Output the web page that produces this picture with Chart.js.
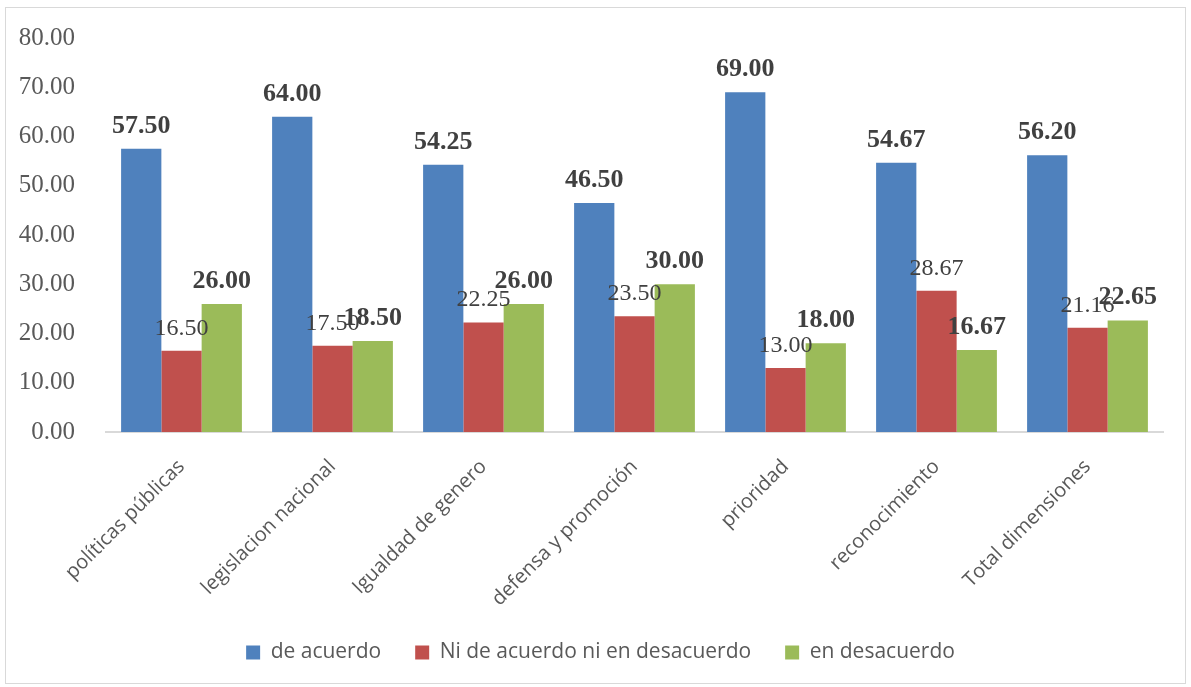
<!DOCTYPE html>
<html>
<head>
<meta charset="utf-8">
<script src="https://cdn.jsdelivr.net/npm/chart.js@4/dist/chart.umd.min.js"></script>
<style>
    html, body { margin: 0; padding: 0; background: #fff; }
    #wrap {
        position: absolute; left: 5px; top: 7px;
        width: 1179px; height: 675px;
        border: 1px solid #d9d9d9;
    }
</style>
</head>
<body>
<div id="wrap"><canvas id="barChart"></canvas></div>
<script>
    const categories = ['políticas públicas', 'legislacion nacional', 'Igualdad de genero',
        'defensa y promoción', 'prioridad', 'reconocimiento', 'Total dimensiones'];
    const deAcuerdo = [57.50, 64.00, 54.25, 46.50, 69.00, 54.67, 56.20];
    const niNi = [16.50, 17.50, 22.25, 23.50, 13.00, 28.67, 21.16];
    const enDesacuerdo = [26.00, 18.50, 26.00, 30.00, 18.00, 16.67, 22.65];
    const yTicks = [0, 10, 20, 30, 40, 50, 60, 70, 80];

    const serif = '"Liberation Serif", "Times New Roman", serif';
    const sans = '"Open Sans", "Liberation Sans", sans-serif';

    // draws the value above each bar (bold for blue and green, plain for red)
    const valueLabels = {
        id: 'valueLabels',
        afterDatasetsDraw(chart) {
            const c = chart.ctx;
            chart.data.datasets.forEach((ds, i) => {
                const meta = chart.getDatasetMeta(i);
                meta.data.forEach((bar, j) => {
                    c.save();
                    c.font = ds.boldLabel ? 'bold 26px ' + serif : '24px ' + serif;
                    c.fillStyle = '#404040';
                    c.textAlign = 'center';
                    c.textBaseline = 'alphabetic';
                    c.fillText(ds.data[j].toFixed(2), bar.x, bar.y - 16);
                    c.restore();
                });
            });
        }
    };

    // legend in the original sits a bit right of centre
    const legendShift = {
        id: 'legendShift',
        afterLayout(chart) {
            chart.legend.left += 16;
            chart.legend.right += 16;
        }
    };

    new Chart(document.getElementById('barChart').getContext('2d'), {
        type: 'bar',
        data: {
            labels: categories,
            datasets: [
                { label: 'de acuerdo', data: deAcuerdo, backgroundColor: '#4F81BD', boldLabel: true },
                { label: 'Ni de acuerdo ni en desacuerdo', data: niNi, backgroundColor: '#C0504D', boldLabel: false },
                { label: 'en desacuerdo', data: enDesacuerdo, backgroundColor: '#9BBB59', boldLabel: true }
            ]
        },
        options: {
            responsive: true,
            maintainAspectRatio: false,
            animation: false,
            datasets: {
                bar: { categoryPercentage: 0.80, barPercentage: 1.0 }
            },
            layout: { padding: { top: 30, right: 22, bottom: 10, left: 0 } },
            scales: {
                x: {
                    grid: { display: false },
                    border: { display: true, color: '#d9d9d9', width: 2 },
                    ticks: {
                        minRotation: 45, maxRotation: 45,
                        color: '#595959',
                        font: { family: sans, size: 20 },
                        padding: 15
                    },
                    afterFit(scale) { scale.height = 176; }
                },
                y: {
                    min: 0, max: 80,
                    grid: { display: false },
                    border: { display: false },
                    afterBuildTicks(scale) { scale.ticks = yTicks.map(v => ({ value: v })); },
                    ticks: {
                        color: '#595959',
                        font: { family: serif, size: 25 },
                        padding: 23,
                        callback: v => v.toFixed(2)
                    },
                    afterFit(scale) {
                        scale.width = 100;
                        scale.paddingTop = 0;
                        scale.paddingBottom = 0;
                    }
                }
            },
            plugins: {
                legend: {
                    position: 'bottom',
                    labels: {
                        boxWidth: 14, boxHeight: 14,
                        color: '#595959',
                        font: { family: sans, size: 21 },
                        padding: 34
                    }
                },
                tooltip: { enabled: false }
            }
        },
        plugins: [valueLabels, legendShift]
    });
</script>
</body>
</html>
